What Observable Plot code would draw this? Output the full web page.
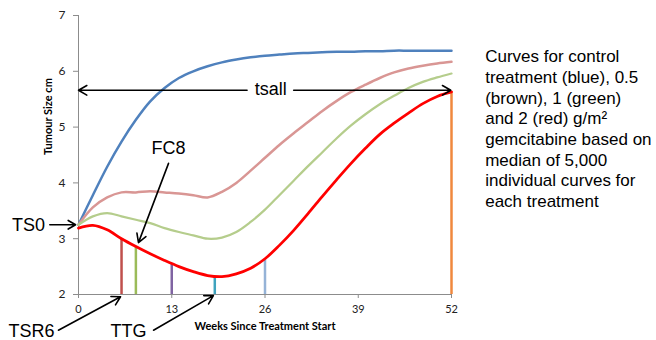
<!DOCTYPE html>
<html><head><meta charset="utf-8">
<script src="https://cdn.jsdelivr.net/npm/d3@7"></script>
<script src="https://cdn.jsdelivr.net/npm/@observablehq/plot@0.6"></script>
<style>html,body{margin:0;padding:0;background:#fff;} #chart svg{display:block;}</style>
</head><body><div id="chart"></div>
<script>
// ---- data ----
const weeks      = [0,2,4,6,8,10,12,14,16,18,20,22,24,26,28,30,32,34,36,38,40,42,44,46,48,50,52];
const controlBlue = [3.25,3.78,4.29,4.74,5.13,5.46,5.70,5.88,6.00,6.09,6.16,6.21,6.25,6.28,6.30,6.32,6.33,6.34,6.35,6.35,6.36,6.36,6.37,6.37,6.37,6.37,6.37];
const dose05Brown = [3.25,3.56,3.74,3.83,3.83,3.85,3.83,3.81,3.78,3.74,3.84,4.00,4.22,4.45,4.68,4.89,5.09,5.29,5.47,5.63,5.76,5.88,5.98,6.05,6.10,6.14,6.17];
const dose1Green  = [3.25,3.40,3.46,3.40,3.34,3.28,3.19,3.12,3.06,3.00,3.02,3.12,3.30,3.52,3.78,4.04,4.30,4.55,4.80,5.03,5.23,5.41,5.56,5.70,5.81,5.89,5.96];
const dose2Red    = [3.19,3.24,3.16,3.00,2.86,2.73,2.61,2.50,2.41,2.34,2.32,2.37,2.47,2.64,2.88,3.15,3.45,3.76,4.06,4.35,4.62,4.87,5.07,5.25,5.42,5.55,5.63];
const seriesNames  = ["Control","0.5 g/m2","1 g/m2","2 g/m2"];
const seriesColors = ["#4F81BD","#D99694","#B5CD8C","#FF0000"];
const seriesWidths = [2.5,2.5,2.25,2.75];

const markerWeeks  = [6,8,13,19,26,52];
const markerTops   = [3.0,2.85,2.55,2.31,2.62,5.63];
const markerColors = ["#C0504D","#9BBB59","#8064A2","#3FA3BE","#95B3D7","#F0883E"];

const xTicks = [0,13,26,39,52];
const yTicks = [2,3,4,5,6,7];

const xTitle = "Weeks Since Treatment Start";
const yTitle = "Tumour Size cm";
const note = "Curves for control\ntreatment (blue), 0.5\n(brown), 1 (green)\nand 2 (red) g/m\u00B2\ngemcitabine based on\nmedian of 5,000\nindividual curves for\neach treatment";

// annotation labels (centres) and arrows, in data units
const labels = [
  {text:"tsall", x:26.8,  y:5.67},
  {text:"TS0",   x:-6.97, y:3.25},
  {text:"FC8",   x:12.55, y:4.62},
  {text:"TSR6",  x:-6.55, y:1.335},
  {text:"TTG",   x:6.97,  y:1.335}
];
const arrows = [
  {x1:23.5, y1:5.66, x2:0,     y2:5.66},
  {x1:30.0, y1:5.66, x2:51.9,  y2:5.66},
  {x1:-4.0, y1:3.25, x2:-0.4,  y2:3.25},
  {x1:12.55,y1:4.35, x2:8.36,  y2:2.93},
  {x1:-2.8, y1:1.36, x2:5.86,  y2:1.96},
  {x1:10.46,y1:1.36, x2:18.8,  y2:1.98}
];

// ---- build tables ----
const seriesValues = [controlBlue, dose05Brown, dose1Green, dose2Red];
const seriesData = seriesValues.map((vals, i) => weeks.map((w, j) => ({week:w, size:vals[j], series:seriesNames[i]})));
const markers = markerWeeks.map((w, i) => ({week:w, top:markerTops[i], color:markerColors[i]}));

const tickFont = "Lato, 'Open Sans', sans-serif";
const annFont = "'Liberation Sans', Arial, sans-serif";

const lineMark = i => Plot.line(seriesData[i], {x:"week", y:"size", stroke:seriesColors[i], strokeWidth:seriesWidths[i], curve:"catmull-rom"});

const chart = Plot.plot({
  width:656, height:340,
  marginLeft:78, marginRight:205, marginTop:15, marginBottom:46,
  x:{domain:[0,52]},
  y:{domain:[2,7]},
  style:{background:"#fff", overflow:"visible", fontFamily:tickFont},
  marks:[
    Plot.ruleX([0], {stroke:"#8c8c8c", strokeWidth:1}),
    Plot.ruleY([2], {stroke:"#8c8c8c", strokeWidth:1}),
    Plot.axisX({ticks:xTicks, tickFormat:"d", tickSize:4, tickPadding:7, stroke:"#8c8c8c", fill:"#222", fontSize:11, fontFamily:tickFont, label:null}),
    Plot.axisY({ticks:yTicks, tickFormat:"d", tickSize:5, tickPadding:8, stroke:"#8c8c8c", fill:"#222", fontSize:12, fontFamily:tickFont, label:null}),
    Plot.text([yTitle], {text:d=>d, frameAnchor:"left", dx:-30, rotate:-90, fontWeight:"bold", fontSize:11, fontFamily:tickFont, fill:"#000"}),
    Plot.text([xTitle], {text:d=>d, frameAnchor:"bottom", dy:35, fontWeight:"bold", fontSize:11, fontFamily:tickFont, fill:"#000"}),
    lineMark(0), lineMark(1), lineMark(2),
    Plot.ruleX(markers, {x:"week", y1:2, y2:"top", stroke:"color", strokeWidth:2.5}),
    lineMark(3),
    Plot.arrow(arrows, {x1:"x1", y1:"y1", x2:"x2", y2:"y2", stroke:"#000", strokeWidth:1.6, headLength:9}),
    Plot.text(labels, {x:"x", y:"y", text:"text", textAnchor:"middle", fontSize:18, fontFamily:annFont, fill:"#000"}),
    Plot.text([note], {text:d=>d, x:56.7, y:6.43, textAnchor:"start", lineAnchor:"top", lineHeight:1.22, fontSize:17, fontFamily:annFont, fill:"#000"})
  ]
});
document.getElementById("chart").appendChild(chart);
</script>
</body></html>
